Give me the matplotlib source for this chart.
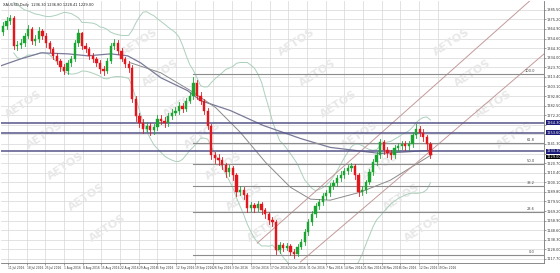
import numpy as np
import pandas as pd
import matplotlib
matplotlib.use("Agg")
import matplotlib.pyplot as plt
from matplotlib.patches import Rectangle

# ---------------- data ----------------
first_open = 1362.0
closes = [1368.1, 1373.5, 1376.7, 1346.7, 1347.8, 1349.9, 1357.4, 1364.9, 1352.1, 1354.2,
          1362.8, 1357.4, 1349.9, 1343.5, 1336.0, 1330.7, 1324.2, 1320.0, 1328.5, 1332.8,
          1349.9, 1360.6, 1346.7, 1343.5, 1336.0, 1332.8, 1328.5, 1322.1, 1320.0, 1330.7,
          1346.7, 1349.9, 1341.4, 1332.8, 1327.4, 1323.2, 1290.0, 1271.8, 1264.3, 1257.9,
          1261.1, 1255.8, 1259.0, 1268.6, 1266.5, 1264.3, 1271.8, 1275.0, 1277.2, 1282.5,
          1279.3, 1287.9, 1293.2, 1307.1, 1293.2, 1287.9, 1277.2, 1261.1, 1229.0, 1225.8,
          1223.7, 1218.3, 1210.8, 1215.1, 1207.6, 1189.4, 1191.6, 1186.2, 1172.3, 1175.5,
          1172.3, 1176.6, 1170.2, 1165.9, 1159.5, 1157.3, 1127.4, 1133.0, 1129.5, 1131.6,
          1125.2, 1123.1, 1130.6, 1135.9, 1146.6, 1157.3, 1165.9, 1174.4, 1178.7, 1185.1,
          1188.3, 1195.8, 1199.0, 1204.4, 1207.6, 1211.9, 1215.1, 1217.2, 1207.6, 1189.4,
          1191.6, 1200.1, 1210.8, 1221.5, 1229.0, 1242.9, 1234.4, 1231.1, 1229.0, 1236.5,
          1238.6, 1240.8, 1238.6, 1240.8, 1250.4, 1257.9, 1253.6, 1248.3, 1240.8, 1229.0]
highs = [1372, 1378, 1380, 1379, 1352, 1354, 1361, 1369, 1367, 1358,
         1367, 1365, 1360, 1352, 1346, 1339, 1333, 1327, 1331, 1336,
         1353, 1365, 1362, 1350, 1346, 1339, 1335, 1331, 1325, 1334,
         1350, 1354, 1353, 1344, 1335, 1330, 1326, 1293, 1275, 1268,
         1265, 1264, 1263, 1272, 1272, 1270, 1275, 1279, 1281, 1286,
         1285, 1291, 1297, 1313, 1310, 1297, 1290, 1280, 1263, 1233,
         1230, 1227, 1221, 1219, 1218, 1210, 1196, 1195, 1189, 1179,
         1178, 1180, 1179, 1173, 1168, 1163, 1160, 1136, 1135, 1135,
         1134, 1128, 1134, 1139, 1150, 1161, 1169, 1178, 1182, 1189,
         1192, 1199, 1203, 1208, 1212, 1215, 1219, 1221, 1220, 1210,
         1196, 1203, 1214, 1225, 1233, 1247, 1246, 1238, 1235, 1240,
         1242, 1244, 1244, 1244, 1254, 1263, 1261, 1257, 1251, 1243]
lows = [1358, 1365, 1370, 1343, 1342, 1344, 1347, 1355, 1349, 1348,
        1351, 1354, 1346, 1340, 1333, 1327, 1320, 1316, 1317, 1325,
        1330, 1347, 1343, 1340, 1333, 1329, 1325, 1318, 1315, 1318,
        1328, 1343, 1338, 1330, 1324, 1319, 1286, 1266, 1260, 1253,
        1254, 1251, 1252, 1256, 1263, 1260, 1261, 1268, 1272, 1274,
        1276, 1277, 1285, 1290, 1290, 1284, 1273, 1257, 1225, 1221,
        1219, 1214, 1206, 1207, 1203, 1185, 1186, 1182, 1168, 1169,
        1168, 1169, 1166, 1162, 1155, 1153, 1123, 1124, 1126, 1127,
        1122, 1119, 1121, 1128, 1133, 1144, 1154, 1163, 1171, 1176,
        1182, 1185, 1193, 1196, 1201, 1205, 1209, 1212, 1204, 1185,
        1186, 1189, 1198, 1208, 1219, 1226, 1231, 1227, 1225, 1226,
        1234, 1236, 1235, 1235, 1238, 1248, 1250, 1245, 1236, 1226]

# long and medium moving averages
ma_long_idx = [-0.6, 5, 10.6, 18.1, 23.6, 30, 34.7, 38.3, 43.9, 51.4, 55, 63.3, 72.5, 82.8, 91.1, 105, 118.9]
ma_long_val = [1325.3, 1332.8, 1339.2, 1338.1, 1336.0, 1338.1, 1336.0, 1328.5, 1312.5, 1298.6,
               1287.9, 1277.2, 1261.1, 1247.2, 1237.6, 1231.1, 1234.4]
ma_mid_idx = [35.5, 43.9, 52.2, 59.2, 66.1, 73.1, 80.0, 85.6, 91.1, 99.4, 107.8, 119.4]
ma_mid_val = [1328.5, 1317.8, 1298.6, 1280.4, 1253.6, 1221.5, 1194.8, 1182.0, 1180.9, 1189.4, 1202.3, 1230.0]

# Fibonacci retracement anchors
fib_low = 1122.0
fib_high = 1316.7
fib_start_idx = 53
fib_levels = [0.0, 23.6, 38.2, 50.0, 61.8, 100.0]

# horizontal support/resistance lines
hlines = [1264.3, 1253.6, 1233.3]

# channel lines (idx, price) pairs
chan1 = ([70.8, 146.6], [1134.8, 1394.9])
chan2 = ([82.8, 150.6], [1114.5, 1338.0])

# axis ticks
ytick_vals = [1117.70, 1128.00, 1138.30, 1148.60, 1158.90, 1169.20, 1179.50, 1189.80, 1200.10,
              1210.40, 1220.70, 1231.00, 1241.30, 1251.60, 1261.90, 1272.20, 1282.50, 1292.80,
              1303.10, 1313.40, 1323.70, 1334.00, 1344.30, 1354.60, 1364.90, 1375.20, 1385.50]
xtick_labels = ["11 Jul 2016", "18 Jul 2016", "25 Jul 2016", "1 Aug 2016", "8 Aug 2016",
                "15 Aug 2016", "22 Aug 2016", "29 Aug 2016", "5 Sep 2016", "12 Sep 2016",
                "19 Sep 2016", "26 Sep 2016", "3 Oct 2016", "10 Oct 2016", "17 Oct 2016",
                "24 Oct 2016", "31 Oct 2016", "7 Nov 2016", "14 Nov 2016", "21 Nov 2016",
                "28 Nov 2016", "5 Dec 2016", "12 Dec 2016", "19 Dec 2016"]
title_text = "XAUUSD,Daily  1236.30 1236.80 1228.41 1229.00"
watermark = "AETOS"

# ---------------- figure ----------------
W, H = 560, 273
YMIN, YMAX = 1113.4, 1394.9
XMIN, XMAX = -0.55, 150.6
fig = plt.figure(figsize=(W / 100, H / 100), dpi=100)
fig.patch.set_facecolor("white")
ax = fig.add_axes([1 / W, 10 / H, 543 / W, 262 / H])
ax.set_facecolor("white")

closes_a = np.array(closes)
opens_a = np.r_[first_open, closes_a[:-1]]
n = len(closes_a)
idx = np.arange(n)

ax.set_xlim(XMIN, XMAX)
ax.set_ylim(YMIN, YMAX)

# grid
xt = 1.4 + 5.2 * np.arange(len(xtick_labels))
for v in xt:
    ax.axvline(v, color="#d6d6d6", lw=0.5, zorder=0)
for v in ytick_vals:
    ax.axhline(v, color="#d6d6d6", lw=0.5, zorder=0)

# watermarks
for cx0 in [-40, 118, 275, 430]:
    for k in range(10):
        px = cx0 + 21 * k
        py = 10 + 31 * k
        if 22 < px < 520 and 16 < py < 248:
            ax.text(px / 543, 1 - py / 262, watermark, transform=ax.transAxes,
                    rotation=33, fontsize=8, fontweight="bold", color="#e8e8e8",
                    ha="center", va="center", zorder=0.5)

# Bollinger bands
s = pd.Series(closes_a)
mid = s.rolling(20, min_periods=4).mean()
sd = s.rolling(20, min_periods=4).std()
ax.plot(idx, mid + 2 * sd, color="#acd0bc", lw=0.7, zorder=2)
ax.plot(idx, mid - 2 * sd, color="#acd0bc", lw=0.7, zorder=2)

# moving averages
ax.plot(ma_long_idx, ma_long_val, color="#7a7a9a", lw=0.9, zorder=2)
ax.plot(ma_mid_idx, ma_mid_val, color="#8a8a8a", lw=0.7, zorder=2)

# channel lines
ax.plot(chan1[0], chan1[1], color="#c49a9a", lw=0.7, zorder=2)
ax.plot(chan2[0], chan2[1], color="#c49a9a", lw=0.7, zorder=2)

# fibonacci
for lv in fib_levels:
    p = fib_low + (fib_high - fib_low) * lv / 100
    ax.plot([fib_start_idx, XMAX], [p, p], color="#8c8c8c", lw=0.8, zorder=2)
    ax.text(XMAX - 2.6, p + 1.0, f"{lv:.1f}", fontsize=2.6, color="#444444", ha="right", va="bottom", zorder=3)

# horizontal lines
for p in hlines:
    ax.axhline(p, color="#55558a", lw=1.1, zorder=2)

# candles
for i in range(n):
    o, c, h, l = opens_a[i], closes_a[i], highs[i], lows[i]
    col = "#1aa531" if c >= o else "#e3161d"
    ax.plot([i, i], [l, h], color=col, lw=0.6, zorder=4)
    ax.add_patch(Rectangle((i - 0.32, min(o, c)), 0.64, max(abs(c - o), 0.6),
                           facecolor=col, edgecolor=col, lw=0.3, zorder=5))

# axes styling
last = closes_a[-1]
box_vals = hlines + [last]
for side in ["top", "left"]:
    ax.spines[side].set_visible(False)
ax.spines["right"].set_color("#777777")
ax.spines["bottom"].set_color("#777777")
ax.spines["right"].set_linewidth(0.6)
ax.spines["bottom"].set_linewidth(0.6)
ax.yaxis.tick_right()
ax.set_yticks(ytick_vals)
ax.set_yticklabels(["" if min(abs(v - b) for b in box_vals) < 6.5 else f"{v:.2f}" for v in ytick_vals],
                   fontsize=2.5, color="#333333")
ax.tick_params(axis="y", length=1.2, width=0.4, pad=0.6, colors="#555555", labelcolor="#333333")
ax.set_xticks(xt)
ax.set_xticklabels(xtick_labels, fontsize=2.05, color="#333333", ha="left")
ax.tick_params(axis="x", length=1.5, width=0.4, pad=1, colors="#555555", labelcolor="#333333")

# price boxes on the right axis
def yfrac(p):
    return (p - YMIN) / (YMAX - YMIN)

for p in hlines:
    ax.text(1.004, yfrac(p), f"{p:.2f}", transform=ax.transAxes,
            fontsize=2.5, color="white", ha="left", va="center",
            bbox=dict(boxstyle="square,pad=0.12", fc="#1c1c78", ec="none"), zorder=6, clip_on=False)
ax.text(1.004, yfrac(last) - 0.006, f"{last:.2f}", transform=ax.transAxes,
        fontsize=2.5, color="white", ha="left", va="center",
        bbox=dict(boxstyle="square,pad=0.12", fc="black", ec="none"), zorder=6, clip_on=False)

ax.text(0.004, 0.992, title_text, transform=ax.transAxes, fontsize=2.6, color="#222222",
        ha="left", va="top", zorder=6)

fig.savefig("out.png", dpi=100, facecolor="white")
